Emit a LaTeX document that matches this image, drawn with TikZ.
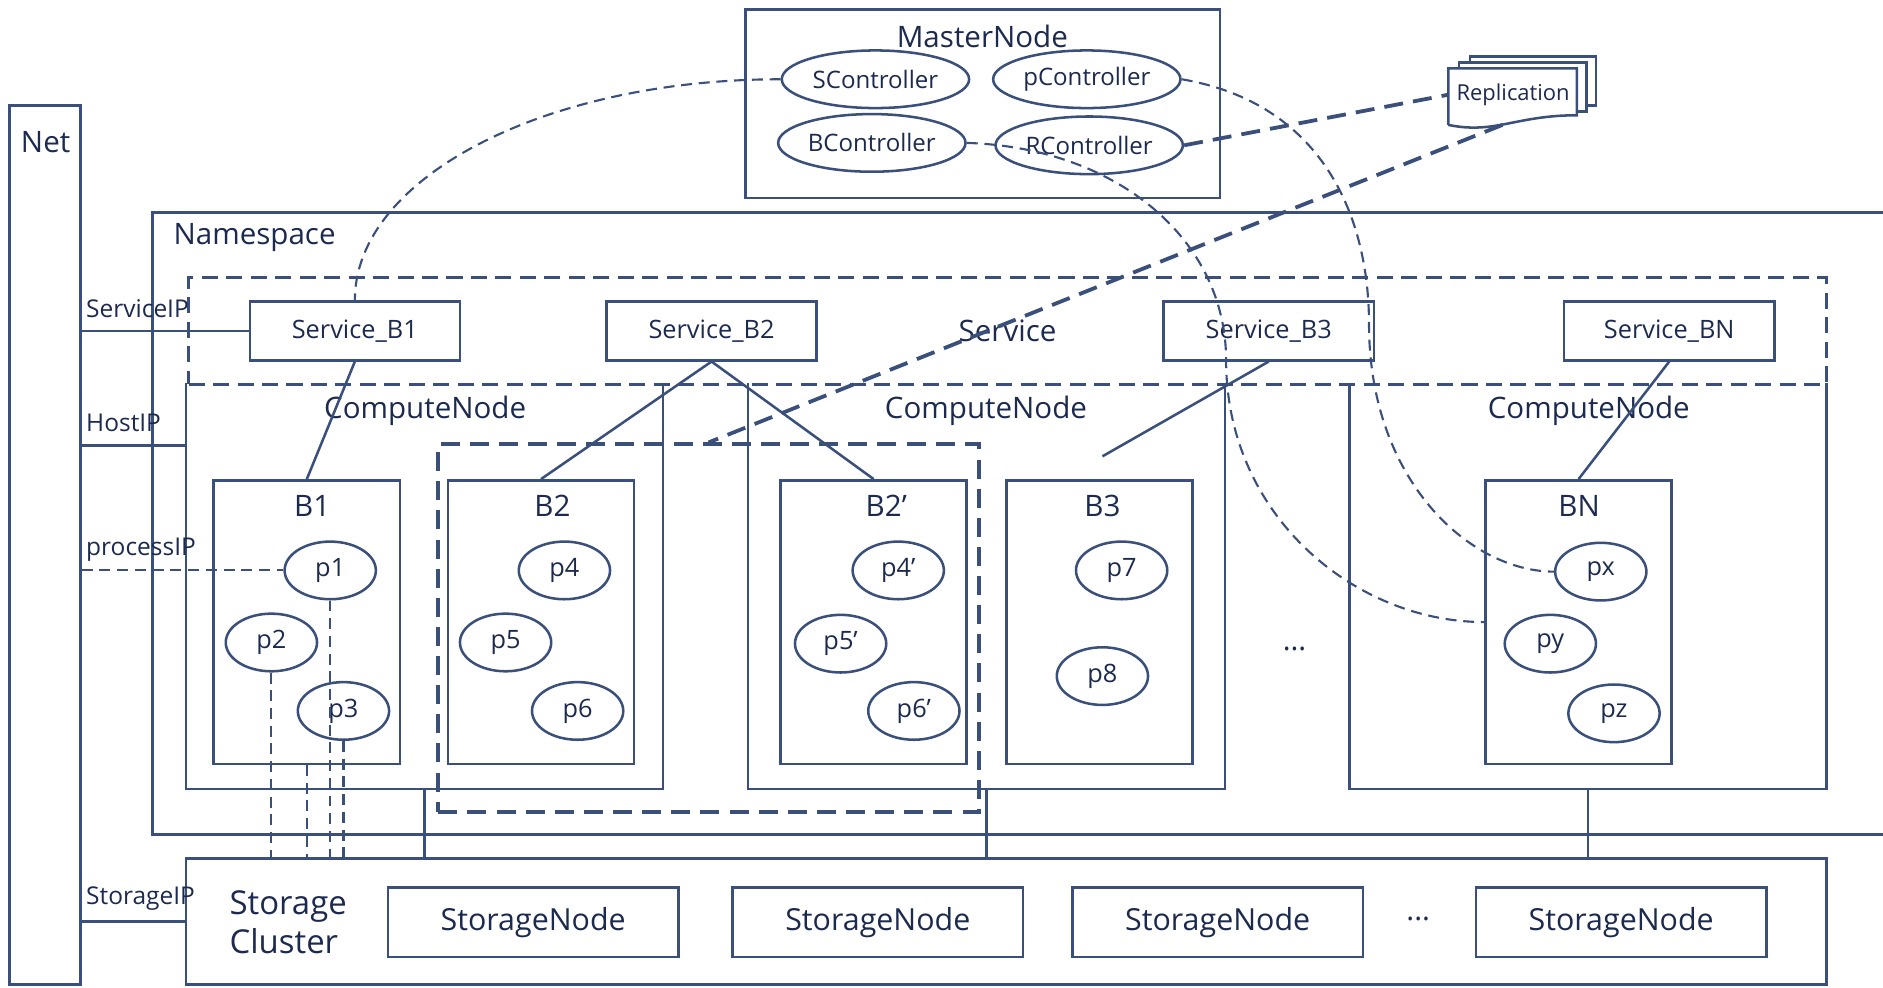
\documentclass[tikz,border=0pt]{standalone}
\usepackage{fontspec}
\setmainfont{Open Sans}
\usetikzlibrary{shapes.geometric}
\definecolor{linea}{RGB}{58,80,122}
\definecolor{texto}{RGB}{28,42,78}
\tikzset{
  caja/.style={draw=linea, line width=0.6pt, inner sep=0pt},
  proc/.style={ellipse, draw=linea, line width=0.6pt, minimum width=7.6mm, minimum height=4.8mm, inner sep=0pt, font=\fontsize{6}{7}\selectfont},
  ctl/.style={ellipse, draw=linea, line width=0.6pt, minimum width=15.6mm, minimum height=4.8mm, inner sep=0pt, font=\fontsize{5.7}{7}\selectfont},
  svcbox/.style={caja, minimum width=17.5mm, minimum height=4.9mm, font=\fontsize{6}{7}\selectfont},
  bbox/.style={caja, minimum width=15.5mm, minimum height=23.6mm},
  cnode/.style={minimum width=39.5mm, minimum height=33.6mm, inner sep=0pt},
  snode/.style={caja, minimum width=24.2mm, minimum height=5.8mm, font=\fontsize{7.2}{8}\selectfont},
  titulo/.style={font=\fontsize{7}{8}\selectfont},
  ip/.style={font=\fontsize{5.8}{7}\selectfont, anchor=west, inner sep=0.5pt},
  punteado/.style={draw=linea, line width=0.5pt, dash pattern=on 2.6pt off 1.6pt},
  grueso/.style={draw=linea, line width=0.9pt, dash pattern=on 4.5pt off 2.4pt},
}
\begin{document}
\begin{tikzpicture}[x=0.1mm, y=-0.1mm, color=linea, line width=0.6pt, every node/.append style={text=texto}]
    \useasboundingbox (0,0) rectangle (1568,822);

    % Red
    \node (net) at (37.5,454) [caja, minimum width=5.9mm, minimum height=73.2mm] {};
    \node (netlbl) at (38,118) [titulo] {Net};

    % Nodo maestro
    \node (master) at (818.5,86.5) [caja, minimum width=39.5mm, minimum height=15.7mm] {};
    \node (masterlbl) at (818,30) [titulo] {MasterNode};
    \node (sctl) at (729,66) [ctl] {SController};
    \node (pctl) at (905,66) [ctl] {pController};
    \node (bctl) at (726,119) [ctl] {BController};
    \node (rctl) at (907,121) [ctl] {RController};

    % Replication
    \draw[fill=white] (1224,47) rectangle (1329,88);
    \draw[fill=white] (1215,52) rectangle (1321,93);
    \draw[fill=white] (1206,104) -- (1206,57) -- (1313,57) -- (1313,96) .. controls (1262,96) and (1245,112) .. (1206,104);
    \node (repl) at (1260,79) [minimum width=10.7mm, minimum height=4.8mm, inner sep=0pt, font=\fontsize{5.2}{6}\selectfont] {Replication};

    % Namespace
    \draw (1568,177) -| (127,695) -- (1568,695);
    \node (nslbl) at (212,198) [titulo] {Namespace};

    % Service
    \node (svc) at (839,275.5) [caja, dash pattern=on 3.8pt off 2pt, minimum width=136.4mm, minimum height=8.9mm, titulo] {Service};
    \node (sb1) at (295.5,275.5) [svcbox] {Service\_B1};
    \node (sb2) at (592.5,275.5) [svcbox] {Service\_B2};
    \node (sb3) at (1056.5,275.5) [svcbox] {Service\_B3};
    \node (sbn) at (1390,275.5) [svcbox] {Service\_BN};

    % ComputeNode
    \node (cn1) at (353.5,488) [cnode] {};
    \node (cn2) at (821.5,488) [cnode] {};
    \node (cn3) at (1322.5,488) [cnode] {};
    \draw (cn1.north west) |- (cn1.south east) -- (cn1.north east);
    \draw (cn2.north west) |- (cn2.south east) -- (cn2.north east);
    \draw (cn3.north west) |- (cn3.south east) -- (cn3.north east);
    \node (cn1lbl) at (354,342) [titulo] {ComputeNode};
    \node (cn2lbl) at (821,342) [titulo] {ComputeNode};
    \node (cn3lbl) at (1323,342) [titulo] {ComputeNode};

    % Grupo B2
    \node (grp) at (590,523) [grueso, minimum width=45mm, minimum height=30.6mm, inner sep=0pt] {};

    % Cajas B
    \node (b1) at (255.5,518) [bbox] {};
    \node (b2) at (450.5,518) [bbox] {};
    \node (b2p) at (727.5,518) [bbox] {};
    \node (b3) at (915.5,518) [bbox] {};
    \node (bn) at (1314.5,518) [bbox] {};
    \node (b1lbl) at (260,421) [titulo] {B1};
    \node (b2lbl) at (460,421) [titulo] {B2};
    \node (b2plbl) at (738,421) [titulo] {B2’};
    \node (b3lbl) at (918,421) [titulo] {B3};
    \node (bnlbl) at (1315,421) [titulo] {BN};

    % Procesos
    \node (p1) at (275,475) [proc] {p1};
    \node (p2) at (226,535) [proc] {p2};
    \node (p3) at (286,592) [proc] {p3};
    \node (p4) at (470,475) [proc] {p4};
    \node (p5) at (421,535) [proc] {p5};
    \node (p6) at (481,592) [proc] {p6};
    \node (p4p) at (748,475) [proc] {p4’};
    \node (p5p) at (700,536) [proc] {p5’};
    \node (p6p) at (761,592) [proc] {p6’};
    \node (p7) at (934,475) [proc] {p7};
    \node (p8) at (918,563) [proc] {p8};
    \node (px) at (1333,476) [proc] {px};
    \node (py) at (1291,536) [proc] {py};
    \node (pz) at (1344,594) [proc] {pz};
    \node (dots1) at (1078,540) [titulo] {...};

    % Storage
    \node (sc) at (838,767.5) [caja, minimum width=136.6mm, minimum height=10.5mm] {};
    \node (sclbl) at (240,768) [font=\fontsize{7.8}{9.1}\selectfont, align=left] {Storage\\Cluster};
    \node (sn1) at (444,768) [snode] {StorageNode};
    \node (sn2) at (731,768) [snode] {StorageNode};
    \node (sn3) at (1014,768) [snode] {StorageNode};
    \node (sn4) at (1350,768) [snode] {StorageNode};
    \node (dots2) at (1181,765) [titulo] {...};

    % Etiquetas IP
    \node (siplbl) at (69,257) [ip] {ServiceIP};
    \node (hiplbl) at (69,352) [ip] {HostIP};
    \node (piplbl) at (69,458) [ip] {processIP};
    \node (stiplbl) at (69,748) [ip] {StorageIP};

    % Conexiones IP
    \coordinate (hostin) at (156,371);
    \draw (net.east |- sb1.west) -- (sb1.west);
    \draw (net.east |- hostin) -- (hostin);
    \draw[punteado] (net.east |- p1.west) -- (p1.west);
    \draw (net.east |- sc.west) -- (sc.west);

    % Servicios a B
    \coordinate (b3tip) at (918,380);
    \draw (sb1.south) -- (b1.north);
    \draw (sb2.south) -- (b2.north);
    \draw (sb2.south) -- (b2p.north);
    \draw (sb3.south) -- (b3tip);
    \draw (sbn.south) -- (bn.north);

    % Hacia storage
    \draw[punteado] (p2.south) -- (p2.south |- sc.north);
    \draw[punteado] (b1.south) -- (b1.south |- sc.north);
    \draw[punteado] (p1.south) -- (p1.south |- sc.north);
    \draw[punteado] (p3.south) -- (p3.south |- sc.north);
    \draw (cn1.south) -- (cn1.south |- sc.north);
    \draw (cn2.south) -- (cn2.south |- sc.north);
    \draw (cn3.south) -- (cn3.south |- sc.north);

    % Controladores
    \coordinate (bend2) at (1140,270);
    \coordinate (bend3) at (1021,300);
    \draw[punteado] (sctl.west) .. controls +(-196,0) and +(0,-102) .. (sb1.north);
    \draw[punteado] (pctl.east) .. controls +(117,20) and +(0,-90) .. (bend2) .. controls +(0,130) and +(-70,0) .. (px.west);
    \draw[punteado] (bctl.east) .. controls +(126,4) and +(0,-100) .. (bend3) .. controls +(0,130) and +(-107,0) .. (bn.west);

    % Replicacion
    \draw[grueso] (rctl.east) -- (repl.west);
    \draw[grueso] ([xshift=-0.9mm]repl.south) -- (grp.north);
\end{tikzpicture}
\end{document}
